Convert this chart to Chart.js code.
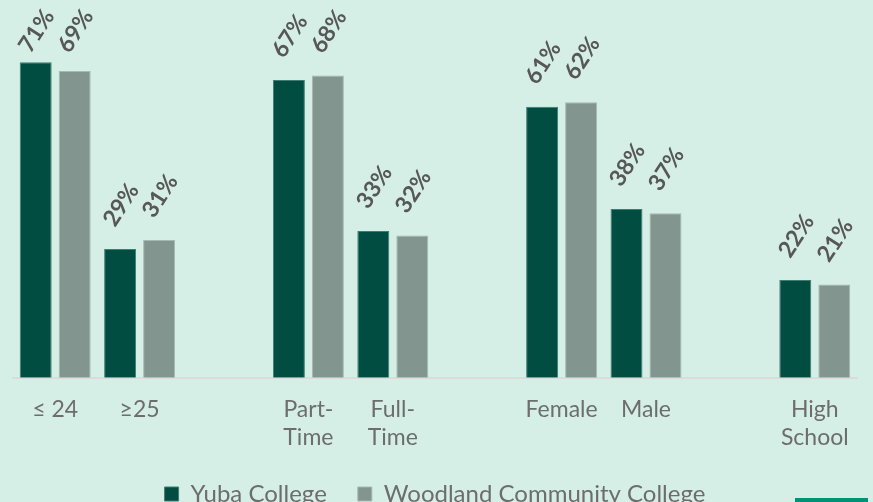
<!DOCTYPE html>
<html>
<head>
<meta charset="utf-8">
<script src="https://cdn.jsdelivr.net/npm/chart.js@4"></script>
<style>
  body { margin: 0; background: #d5efe6; }
  .wrap { position: relative; width: 873px; height: 502px; overflow: hidden; }
  .corner { position: absolute; left: 795px; top: 498px; width: 73px; height: 4px; background: #00917a; }
</style>
</head>
<body>
<div class="wrap">
  <canvas id="chart" width="873" height="502"></canvas>
  <div class="corner"></div>
</div>
<script>
const categories = [["≤ 24"], ["≥25"], [""], ["Part-", "Time"], ["Full-", "Time"], [""], ["Female"], ["Male"], [""], ["High", "School"]];
const yuba = [71, 29, null, 67, 33, null, 61, 38, null, 22];
const woodland = [69, 31, null, 68, 32, null, 62, 37, null, 21];
const seriesNames = ["Yuba College", "Woodland Community College"];

// rotated % labels above each bar, kept inside the top of the canvas
const barLabels = {
    id: "barLabels",
    afterDatasetsDraw(chart) {
        let ctx = chart.ctx
        ctx.save()
        ctx.font = "bold 23px Lato"
        ctx.fillStyle = "#575757"
        ctx.textAlign = "center"
        ctx.textBaseline = "middle"
        chart.data.datasets.forEach((ds, i) => {
            chart.getDatasetMeta(i).data.forEach((bar, j) => {
                if (ds.data[j] == null) return
                ctx.save()
                ctx.translate(bar.x + 1, Math.max(bar.y - 44, 31))
                ctx.rotate(-57 * Math.PI / 180)
                ctx.fillText(ds.data[j] + "%", 0, 0)
                ctx.restore()
            })
        })
        ctx.restore()
    }
}

// keep wide gaps between legend items but draw the row a bit higher
const legendShift = {
    id: "legendShift",
    beforeInit(chart) {
        let legend = chart.legend
        let draw = legend.draw
        legend.draw = function () {
            this.ctx.save()
            this.ctx.translate(0, -18)
            draw.call(this)
            this.ctx.restore()
        }
    }
}

const ctx = document.getElementById("chart");
Chart.defaults.font.family = "Lato";
new Chart(ctx, {
    type: 'bar',
    data: {
        labels: categories,
        datasets: [{
            label: seriesNames[0],
            data: yuba,
            backgroundColor: "#024d41",
            borderColor: "#3f7d70",
            borderWidth: 1,
            categoryPercentage: 0.924,
            barPercentage: 0.82
        }, {
            label: seriesNames[1],
            data: woodland,
            backgroundColor: "#83958f",
            borderColor: "#a5b8b1",
            borderWidth: 1,
            categoryPercentage: 0.924,
            barPercentage: 0.82
        }]
    },
    options: {
        responsive: false,
        animation: false,
        layout: { padding: { left: 13, right: 16, top: 0, bottom: -32 } },
        scales: {
            x: {
                grid: { display: false, drawTicks: false },
                border: { color: "#d9dcd9", width: 2 },
                ticks: { color: "#6d6d6d", font: { size: 23, lineHeight: 1.2 }, padding: 18, maxRotation: 0 }
            },
            y: {
                display: false,
                min: 0,
                max: 85
            }
        },
        plugins: {
            legend: {
                position: 'bottom',
                labels: { color: "#6d6d6d", font: { size: 24 }, boxWidth: 14, boxHeight: 14, padding: 31 }
            },
            tooltip: { enabled: false }
        }
    },
    plugins: [barLabels, legendShift]
});
</script>
</body>
</html>
